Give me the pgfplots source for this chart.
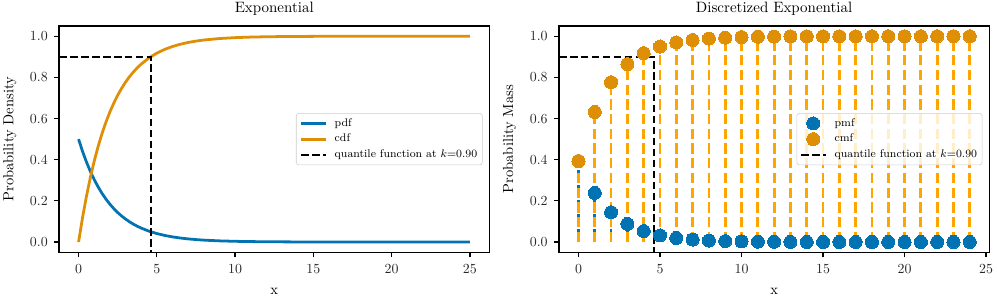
\documentclass[border=0pt]{standalone}
\usepackage{pgfplots}
\pgfplotsset{compat=1.18}
\definecolor{cblue}{HTML}{0173B2}
\definecolor{corange}{HTML}{DE8F05}
\definecolor{stemorange}{HTML}{FFA500}
\pgfplotsset{
  linelegend/.style={legend image code/.code={\draw[##1] (0pt,0pt) -- (18pt,0pt);}},
  common/.style={
    scale only axis, width=310pt, height=163pt,
    anchor=south west,
    ymin=-0.05, ymax=1.05,
    axis line style={line width=1.1pt},
    tick align=outside, tick pos=left,
    major tick length=3.6pt,
    every tick/.style={black, line width=0.9pt},
    xtick={0,5,10,15,20,25},
    ytick={0,0.2,0.4,0.6,0.8,1.0},
    yticklabel style={/pgf/number format/fixed, /pgf/number format/fixed zerofill, /pgf/number format/precision=1, xshift=-1pt},
    tick label style={font=\fontsize{10}{11}\selectfont, text=black!85},
    xticklabel style={yshift=-1.5pt},
    label style={font=\fontsize{10.5}{12}\selectfont},
    title style={font=\fontsize{10.8}{12}\selectfont, yshift=-2pt},
    xlabel={x},
    xlabel style={yshift=-4pt},
    ylabel style={yshift=3pt},
    legend style={at={(0.984,0.5)}, anchor=east, font=\fontsize{8}{9}\selectfont,
      draw=black!20, rounded corners=2pt, fill=white, fill opacity=0.8,
      draw opacity=1, text opacity=1, row sep=1.8pt, inner sep=2.5pt,
      nodes={inner sep=1.2pt},
      /tikz/every odd column/.append style={column sep=4pt}},
    legend image post style={opacity=1},
    legend cell align=left,
  }
}
\begin{document}
\begin{tikzpicture}
\begin{axis}[common, at={(0,0)}, xmin=-1.25, xmax=26.25,
  title={Exponential}, ylabel={Probability Density}, linelegend]
\addplot[cblue, line width=2pt] coordinates {
(0,0.5) (0.25,0.441248) (0.5,0.389400) (0.75,0.343645) (1,0.303265) (1.25,0.267631)
(1.5,0.236183) (1.75,0.208431) (2,0.183940) (2.25,0.162326) (2.5,0.143252) (2.75,0.126420)
(3,0.111565) (3.25,0.098456) (3.5,0.086887) (3.75,0.076677) (4,0.067668) (4.5,0.052700)
(5,0.041042) (5.5,0.031964) (6,0.024894) (6.5,0.019387) (7,0.015099) (7.5,0.011759)
(8,0.009158) (9,0.005554) (10,0.003369) (11,0.002043) (12,0.001239) (13,0.000752)
(14,0.000456) (15,0.000277) (17,0.000102) (20,0.000023) (25,0.000002)};
\addlegendentry{pdf}
\addplot[corange, line width=2pt] coordinates {
(0,0) (0.25,0.117503) (0.5,0.221199) (0.75,0.312711) (1,0.393469) (1.25,0.464739)
(1.5,0.527633) (1.75,0.583138) (2,0.632121) (2.25,0.675348) (2.5,0.713495) (2.75,0.747160)
(3,0.776870) (3.25,0.803088) (3.5,0.826226) (3.75,0.846645) (4,0.864665) (4.5,0.894601)
(5,0.917915) (5.5,0.936072) (6,0.950213) (6.5,0.961226) (7,0.969803) (7.5,0.976482)
(8,0.981684) (9,0.988891) (10,0.993262) (11,0.995913) (12,0.997521) (13,0.998497)
(14,0.999088) (15,0.999447) (17,0.999797) (20,0.999955) (25,0.999996)};
\addlegendentry{cdf}
\addplot[black, line width=1.5pt, dash pattern=on 5.5pt off 2.4pt] coordinates {
(-1.25,0.9) (4.60517,0.9) (4.60517,-0.05)};
\addlegendentry{quantile function at $k$=0.90}
\end{axis}

\begin{axis}[common, at={(360pt,0)}, xmin=-1.2, xmax=25.2,
  title={Discretized Exponential}, ylabel={Probability Mass}]
\pgfplotstableread{
k pmf cmf
0 0.393469 0.393469
1 0.238651 0.632121
2 0.144749 0.776870
3 0.087795 0.864665
4 0.053251 0.917915
5 0.032298 0.950213
6 0.019590 0.969803
7 0.011882 0.981684
8 0.007207 0.988891
9 0.004371 0.993262
10 0.002651 0.995913
11 0.001608 0.997521
12 0.000975 0.998497
13 0.000592 0.999088
14 0.000359 0.999447
15 0.000218 0.999665
16 0.000132 0.999797
17 0.000080 0.999877
18 0.000049 0.999925
19 0.000030 0.999955
20 0.000018 0.999973
21 0.000011 0.999983
22 0.000007 0.999990
23 0.000004 0.999994
24 0.000002 0.999996
}\disc
\addplot[ycomb, cblue, line width=2pt, dash pattern=on 7.4pt off 3.2pt, dash phase=-2pt, no marks, forget plot] table[x=k, y=pmf] {\disc};
\addplot[ycomb, stemorange, line width=2pt, dash pattern=on 7.4pt off 3.2pt, no marks, forget plot] table[x=k, y=cmf] {\disc};
\addplot[only marks, mark=*, mark size=4.7pt, color=cblue, mark options={solid, draw=cblue, fill=cblue, line width=0pt}] table[x=k, y=pmf] {\disc};
\addlegendentry{pmf}
\addplot[only marks, mark=*, mark size=4.7pt, color=corange, mark options={solid, draw=corange, fill=corange, line width=0pt}] table[x=k, y=cmf] {\disc};
\addlegendentry{cmf}
\addplot[black, line width=1.5pt, dash pattern=on 5.5pt off 2.4pt, linelegend] coordinates {
(-1.2,0.9) (4.60517,0.9) (4.60517,-0.05)};
\addlegendentry{quantile function at $k$=0.90}
\end{axis}
\pgfresetboundingbox
\path[use as bounding box] (-42.5pt,-36.7pt) rectangle (675.5pt,181.7pt);
\end{tikzpicture}
\end{document}
